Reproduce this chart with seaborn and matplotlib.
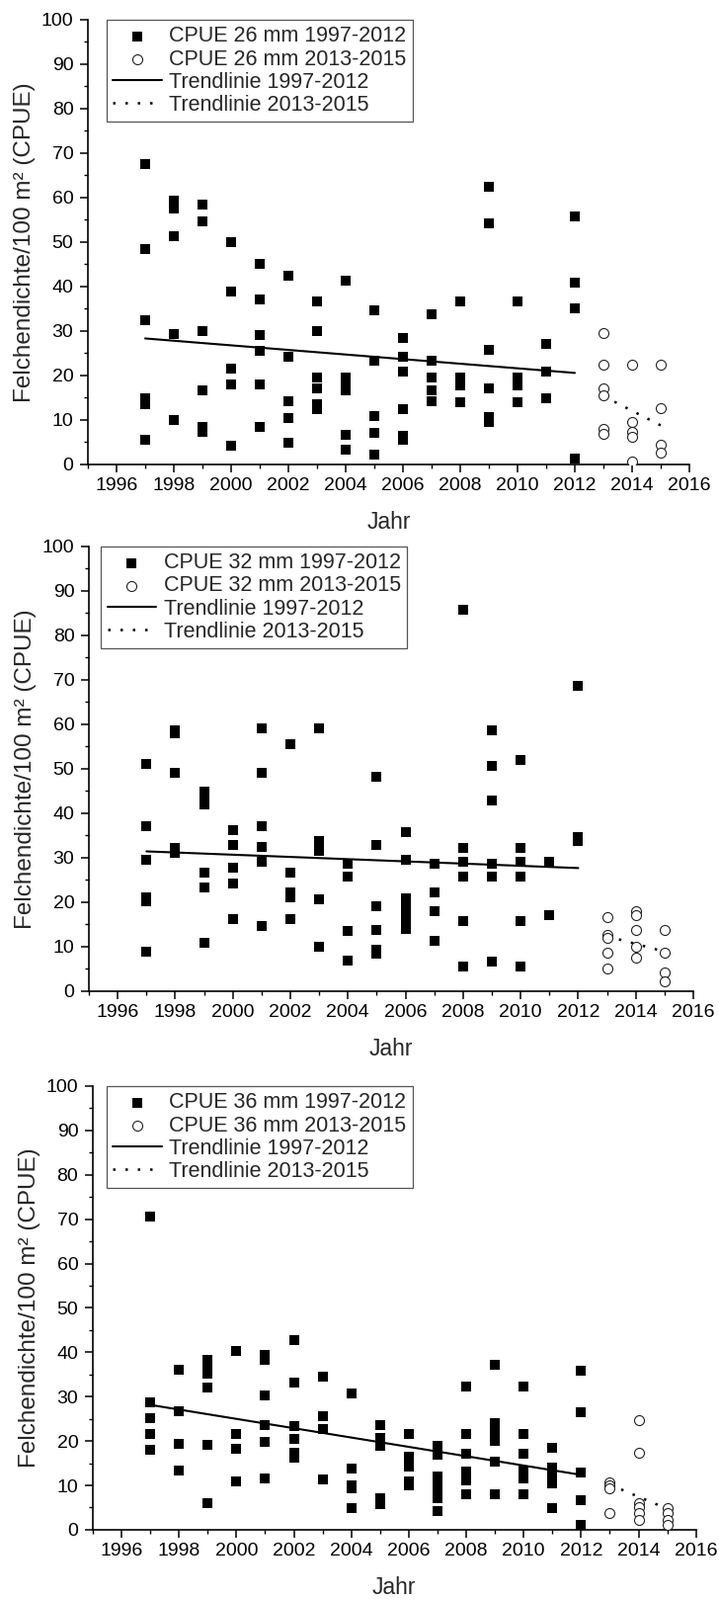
import numpy as np
import pandas as pd
import matplotlib
matplotlib.use("Agg")
import matplotlib.pyplot as plt
from matplotlib.ticker import MultipleLocator
import seaborn as sns

sns.set_style("ticks")
plt.rcParams["font.family"] = ["Liberation Sans", "DejaVu Sans"]

# ── data (one list per year) ─────────────────────────────────
YEARS_EARLY = list(range(1997, 2013))
YEARS_LATE = [2013, 2014, 2015]

cpue26_early = [
    [67.6, 48.4, 32.4, 14.8, 13.5, 5.6],
    [59.3, 57.6, 51.3, 29.4, 9.9],
    [58.4, 54.7, 30.0, 16.7, 8.4, 7.4],
    [50.0, 38.9, 21.5, 18.0, 4.3],
    [45.2, 37.0, 29.0, 25.6, 18.0, 8.5],
    [42.4, 24.2, 14.2, 10.4, 4.8],
    [36.7, 30.0, 19.6, 17.0, 13.5, 12.4],
    [41.3, 19.6, 18.1, 16.7, 6.7, 3.3],
    [34.7, 23.3, 10.9, 7.0, 2.2],
    [28.5, 24.2, 20.9, 12.4, 6.5, 5.5],
    [33.7, 23.3, 19.6, 16.7, 14.2],
    [36.7, 19.6, 17.8, 13.9],
    [62.4, 54.2, 25.7, 17.0, 10.7, 9.6],
    [36.7, 19.6, 17.8, 13.9],
    [27.2, 20.9, 14.8],
    [55.7, 40.9, 35.2, 1.3],
]
cpue26_late = [
    [29.5, 22.4, 17.0, 15.6, 7.9, 6.8],
    [22.4, 9.6, 7.4, 6.3, 0.7],
    [22.4, 12.7, 4.4, 2.6],
]

cpue32_early = [
    [51.0, 37.1, 29.5, 21.0, 20.2, 8.9],
    [58.7, 58.0, 49.0, 32.1, 31.0],
    [44.9, 43.5, 42.0, 26.6, 23.4, 10.8],
    [36.2, 32.9, 27.7, 24.3, 16.2],
    [59.0, 49.0, 37.1, 32.5, 29.0, 14.7],
    [55.6, 26.6, 22.2, 21.0, 16.2],
    [59.0, 33.8, 31.6, 20.6, 9.9],
    [28.6, 25.7, 13.6, 6.8],
    [48.1, 32.9, 19.0, 13.7, 9.4, 8.5],
    [35.8, 29.5, 20.8, 19.2, 17.6, 16.2, 13.9],
    [28.6, 22.3, 18.0, 11.4],
    [85.8, 32.3, 29.0, 25.7, 15.7, 5.6],
    [58.6, 50.6, 42.9, 28.6, 25.7, 6.7],
    [51.9, 32.3, 29.0, 25.7, 15.7, 5.6],
    [29.0, 17.1],
    [68.7, 34.6, 33.8],
]
cpue32_late = [
    [16.7, 12.6, 12.1, 8.6, 5.2],
    [18.0, 17.1, 13.8, 9.9, 7.6],
    [13.8, 8.6, 4.3, 2.3],
]

cpue36_early = [
    [70.7, 28.7, 25.1, 21.7, 18.0],
    [36.1, 26.7, 19.4, 13.4],
    [38.2, 36.7, 35.2, 32.0, 19.1, 5.9],
    [40.4, 21.7, 18.3, 10.8],
    [39.4, 38.2, 30.3, 23.7, 19.7, 11.6],
    [42.7, 33.2, 23.4, 20.4, 17.3, 16.3],
    [34.6, 25.7, 22.8, 11.4],
    [30.8, 13.9, 10.0, 9.3, 4.8],
    [23.7, 20.8, 18.9, 7.2, 5.8],
    [21.5, 16.5, 14.2, 11.0, 10.0],
    [19.0, 17.0, 12.0, 10.0, 8.5, 7.0, 4.3],
    [32.3, 21.7, 17.1, 13.2, 11.2, 7.9],
    [37.1, 24.0, 22.0, 20.0, 15.4, 7.9],
    [32.3, 21.7, 17.1, 13.3, 11.5, 7.9],
    [18.5, 14.0, 12.0, 10.5, 4.8],
    [35.8, 26.6, 13.0, 6.7, 1.1],
]
cpue36_late = [
    [10.6, 10.0, 9.3, 3.7],
    [24.6, 17.4, 5.9, 5.0, 3.7, 2.2],
    [4.8, 3.7, 2.2, 1.1],
]

MESH = ["26", "32", "36"]


def long_df(years, groups):
    rows = [(yr, v) for yr, vals in zip(years, groups) for v in vals]
    return pd.DataFrame(rows, columns=["Jahr", "CPUE"])


# mesh, early, late, axes rect, legend x-offset
panels = [
    (MESH[0], cpue26_early, cpue26_late, [0.1223, 0.7097, 0.8365, 0.2780], 0.031),
    (MESH[1], cpue32_early, cpue32_late, [0.1236, 0.3805, 0.8407, 0.2780], 0.020),
    (MESH[2], cpue36_early, cpue36_late, [0.1290, 0.0439, 0.8390, 0.2773], 0.023),
]

fig = plt.figure(figsize=(7.28, 16.19), dpi=100)

for mm, early_vals, late_vals, rect, leg_x in panels:
    ax = fig.add_axes(rect)
    early = long_df(YEARS_EARLY, early_vals)
    late = long_df(YEARS_LATE, late_vals)

    sns.scatterplot(data=early, x="Jahr", y="CPUE", marker="s", s=62,
                    color="black", edgecolor="black", linewidth=0,
                    label=f"CPUE {mm} mm 1997-2012", ax=ax, zorder=3)
    sns.scatterplot(data=late, x="Jahr", y="CPUE", marker="o", s=52,
                    color="white", edgecolor="#222222", linewidth=0.8,
                    label=f"CPUE {mm} mm 2013-2015", ax=ax, zorder=3)
    sns.regplot(data=early, x="Jahr", y="CPUE", scatter=False, ci=None,
                color="black", line_kws=dict(lw=1.5),
                label="Trendlinie 1997-2012", ax=ax)
    sns.regplot(data=late, x="Jahr", y="CPUE", scatter=False, ci=None,
                color="black", line_kws=dict(lw=1.8, ls=(0, (1, 4))),
                label="Trendlinie 2013-2015", ax=ax)

    ax.set_xlim(1995, 2016)
    ax.set_ylim(0, 100)
    ax.xaxis.set_major_locator(MultipleLocator(2))
    ax.xaxis.set_minor_locator(MultipleLocator(1))
    ax.yaxis.set_major_locator(MultipleLocator(10))
    ax.yaxis.set_minor_locator(MultipleLocator(5))
    ax.tick_params(which="major", length=5.5, width=1.1, labelsize=14,
                   color="black", labelcolor="black", pad=4)
    ax.tick_params(which="minor", length=3, width=1.0, color="black")
    ax.tick_params(axis="y", which="major", pad=5)
    sns.despine(ax=ax)
    for side in ["left", "bottom"]:
        ax.spines[side].set_linewidth(1.2)
        ax.spines[side].set_color("black")

    ax.set_xlabel("Jahr", fontsize=16.5, labelpad=12)
    ax.set_ylabel("Felchendichte/100 m² (CPUE)", fontsize=17.5, labelpad=4)

    leg = ax.legend(loc="upper left", bbox_to_anchor=(leg_x, 1.0),
                    borderaxespad=0, frameon=True, fancybox=False,
                    edgecolor="#555555", framealpha=1, fontsize=15.5,
                    handlelength=2.3, handletextpad=0.35, labelspacing=0.1,
                    borderpad=0.3)
    leg.get_frame().set_linewidth(0.9)

fig.savefig("out.png", dpi=100)
